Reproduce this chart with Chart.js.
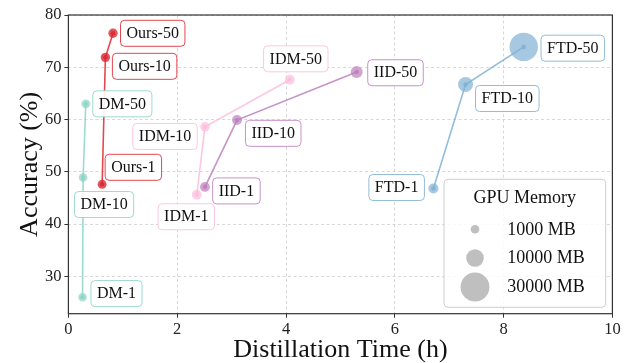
<!DOCTYPE html>
<html><head><meta charset="utf-8">
<script src="https://cdn.jsdelivr.net/npm/chart.js@4.4.0/dist/chart.umd.min.js"></script>
<style>html,body{margin:0;padding:0;background:#fff;overflow:hidden}#wrap{width:628px;height:363px;position:relative}</style>
</head><body><div id="wrap"><canvas id="c" width="628" height="363"></canvas></div>
<script>
// ---- data ----
const methodNames = ['Ours', 'DM', 'IDM', 'IID', 'FTD'];
const ipcLabels = ['1', '10', '50'];
const oursTime = [0.62, 0.68, 0.82];
const oursAcc  = [47.6, 71.9, 76.5];
const oursMem  = [1200, 1500, 1500];
const dmTime = [0.26, 0.27, 0.32];
const dmAcc  = [26.0, 48.9, 63.0];
const dmMem  = [900, 1100, 1200];
const idmTime = [2.36, 2.51, 4.07];
const idmAcc  = [45.6, 58.6, 67.6];
const idmMem  = [1900, 1600, 1900];
const iidTime = [2.51, 3.10, 5.30];
const iidAcc  = [47.1, 59.9, 69.1];
const iidMem  = [1900, 2000, 3600];
const ftdTime = [6.71, 7.30, 8.37];
const ftdAcc  = [46.8, 66.7, 73.9];
const ftdMem  = [2000, 6800, 29000];
const legendMem = [1000, 10000, 30000];
const legendTitle = 'GPU Memory';
const xTicks = [0, 2, 4, 6, 8, 10];
const yTicks = [30, 40, 50, 60, 70, 80];

// ---- style ----
const FONT = "'Liberation Serif', 'DejaVu Serif', serif";
const colors = {
  Ours: [220, 40, 50],
  DM:   [141, 211, 199],
  IDM:  [252, 190, 220],
  IID:  [188, 128, 189],
  FTD:  [128, 177, 211]
};
const dotAlpha = {Ours: 0.8, DM: 0.7, IDM: 0.7, IID: 0.7, FTD: 0.7};
// label placement: [dx, dy, anchor]
const labelPos = {
  Ours: [[3, -17, 'left'], [7, 9, 'left'], [7.5, 0, 'left']],
  DM:   [[8.4, -3.6, 'left'], [21, 27, 'center'], [7, 0, 'left']],
  IDM:  [[-10.5, 22, 'center'], [-7.7, 9.6, 'right'], [6, -21, 'center']],
  IID:  [[7.7, 4, 'left'], [8.4, 13.3, 'left'], [11, 0.8, 'left']],
  FTD:  [[-9, -1, 'right'], [10, 14, 'left'], [17.3, 1.3, 'left']]
};
const rgba = (c, a) => `rgba(${c[0]},${c[1]},${c[2]},${a})`;
const radiusFor = m => Math.sqrt(0.00654 * m + 12);

const series = {
  Ours: [oursTime, oursAcc, oursMem],
  DM:   [dmTime, dmAcc, dmMem],
  IDM:  [idmTime, idmAcc, idmMem],
  IID:  [iidTime, iidAcc, iidMem],
  FTD:  [ftdTime, ftdAcc, ftdMem]
};

const datasets = [];
methodNames.forEach(name => {
  const [t, a, m] = series[name];
  const pts = t.map((v, i) => ({x: v, y: a[i], mem: m[i]}));
  const c = colors[name];
  datasets.push({
    label: name + ' line', data: pts, showLine: true, order: 0,
    borderColor: rgba(c, 0.85), borderWidth: 1.6,
    pointRadius: 2.3, pointBackgroundColor: rgba(c, 0.85), pointBorderWidth: 0,
    pointHoverRadius: 2.3
  });
  datasets.push({
    label: name + ' mem', data: pts, showLine: false, order: 1,
    pointRadius: ctx => radiusFor(ctx.raw.mem),
    pointHoverRadius: ctx => radiusFor(ctx.raw.mem),
    pointBackgroundColor: rgba(c, dotAlpha[name]), pointBorderWidth: 0
  });
});

function roundRect(ctx, x, y, w, h, r) {
  ctx.beginPath();
  ctx.moveTo(x + r, y);
  ctx.lineTo(x + w - r, y); ctx.arcTo(x + w, y, x + w, y + r, r);
  ctx.lineTo(x + w, y + h - r); ctx.arcTo(x + w, y + h, x + w - r, y + h, r);
  ctx.lineTo(x + r, y + h); ctx.arcTo(x, y + h, x, y + h - r, r);
  ctx.lineTo(x, y + r); ctx.arcTo(x, y, x + r, y, r);
  ctx.closePath();
}

const overlay = {
  id: 'overlay',
  afterDatasetsDraw(chart) {
    const ctx = chart.ctx, xs = chart.scales.x, ys = chart.scales.y, ca = chart.chartArea;
    ctx.save();
    // frame
    ctx.strokeStyle = '#333'; ctx.lineWidth = 1.2; ctx.setLineDash([]);
    ctx.strokeRect(ca.left, ca.top, ca.right - ca.left, ca.bottom - ca.top);
    // labels
    ctx.font = `16px ${FONT}`;
    ctx.textBaseline = 'middle'; ctx.textAlign = 'left';
    methodNames.forEach(name => {
      const [t, a] = series[name];
      t.forEach((v, i) => {
        const px = xs.getPixelForValue(v), py = ys.getPixelForValue(a[i]);
        const txt = name + '-' + ipcLabels[i];
        const [dx, dy, anc] = labelPos[name][i];
        const w = ctx.measureText(txt).width + 12, h = 26;
        let bx = px + dx;
        if (anc === 'right') bx -= w; else if (anc === 'center') bx -= w / 2;
        const by = py + dy - h / 2;
        roundRect(ctx, bx, by, w, h, 4);
        ctx.fillStyle = 'rgba(255,255,255,0.9)'; ctx.fill();
        ctx.strokeStyle = rgba(colors[name], 0.85); ctx.lineWidth = 1; ctx.stroke();
        ctx.fillStyle = '#111';
        ctx.fillText(txt, bx + 6, by + h / 2 + 0.5);
      });
    });
    // legend
    const lw = 161.7, lh = 128;
    const lx = ca.right - 6.7 - lw, ly = ca.bottom - 6.4 - lh;
    roundRect(ctx, lx, ly, lw, lh, 4);
    ctx.fillStyle = 'rgba(255,255,255,0.85)'; ctx.fill();
    ctx.strokeStyle = 'rgba(205,205,205,1)'; ctx.lineWidth = 1; ctx.stroke();
    ctx.font = `18px ${FONT}`; ctx.fillStyle = '#111'; ctx.textAlign = 'center';
    ctx.fillText(legendTitle, lx + lw / 2, ly + 19);
    ctx.textAlign = 'left';
    const rowY = [50, 78.7, 107.7];
    legendMem.forEach((m, i) => {
      ctx.beginPath();
      ctx.arc(lx + 31, ly + rowY[i], radiusFor(m), 0, Math.PI * 2);
      ctx.fillStyle = 'rgba(180,180,180,0.85)'; ctx.fill();
      ctx.fillStyle = '#111';
      ctx.fillText(m + ' MB', lx + 63.3, ly + rowY[i] + 0.5);
    });
    ctx.restore();
  }
};

const gridCommon = {
  color: 'rgba(200,200,200,0.9)', lineWidth: 0.8,
  drawTicks: true, tickLength: 4, tickColor: '#333', tickWidth: 1, tickBorderDash: []
};
const borderCommon = {display: false, dash: [3, 2.5], color: '#333', width: 1.2};

new Chart(document.getElementById('c'), {
  type: 'scatter',
  data: {datasets},
  plugins: [overlay],
  options: {
    responsive: false, animation: false, devicePixelRatio: 1,
    layout: {padding: {top: 15, right: 15.6, left: 0, bottom: 0}},
    plugins: {legend: {display: false}, tooltip: {enabled: false}},
    scales: {
      x: {
        type: 'linear', min: 0, max: 10,
        afterBuildTicks: s => { s.ticks = xTicks.map(v => ({value: v})); },
        afterFit: s => { s.height = 49.3; },
        grid: gridCommon,
        border: borderCommon,
        ticks: {font: {family: FONT, size: 16.5}, color: '#222', padding: 2, maxRotation: 0},
        title: {display: true, text: 'Distillation Time (h)', font: {family: FONT, size: 26, lineHeight: 1}, color: '#111', padding: {top: 0, bottom: 0}}
      },
      y: {
        type: 'linear', min: 22.84, max: 80,
        afterBuildTicks: s => { s.ticks = yTicks.map(v => ({value: v})); },
        afterFit: s => { s.width = 68.4; },
        grid: gridCommon,
        border: borderCommon,
        ticks: {font: {family: FONT, size: 16.5}, color: '#222', padding: 3},
        title: {display: true, text: 'Accuracy (%)', font: {family: FONT, size: 26, lineHeight: 1}, color: '#111', padding: {top: 17, bottom: 0}}
      }
    }
  }
});
</script></body></html>
